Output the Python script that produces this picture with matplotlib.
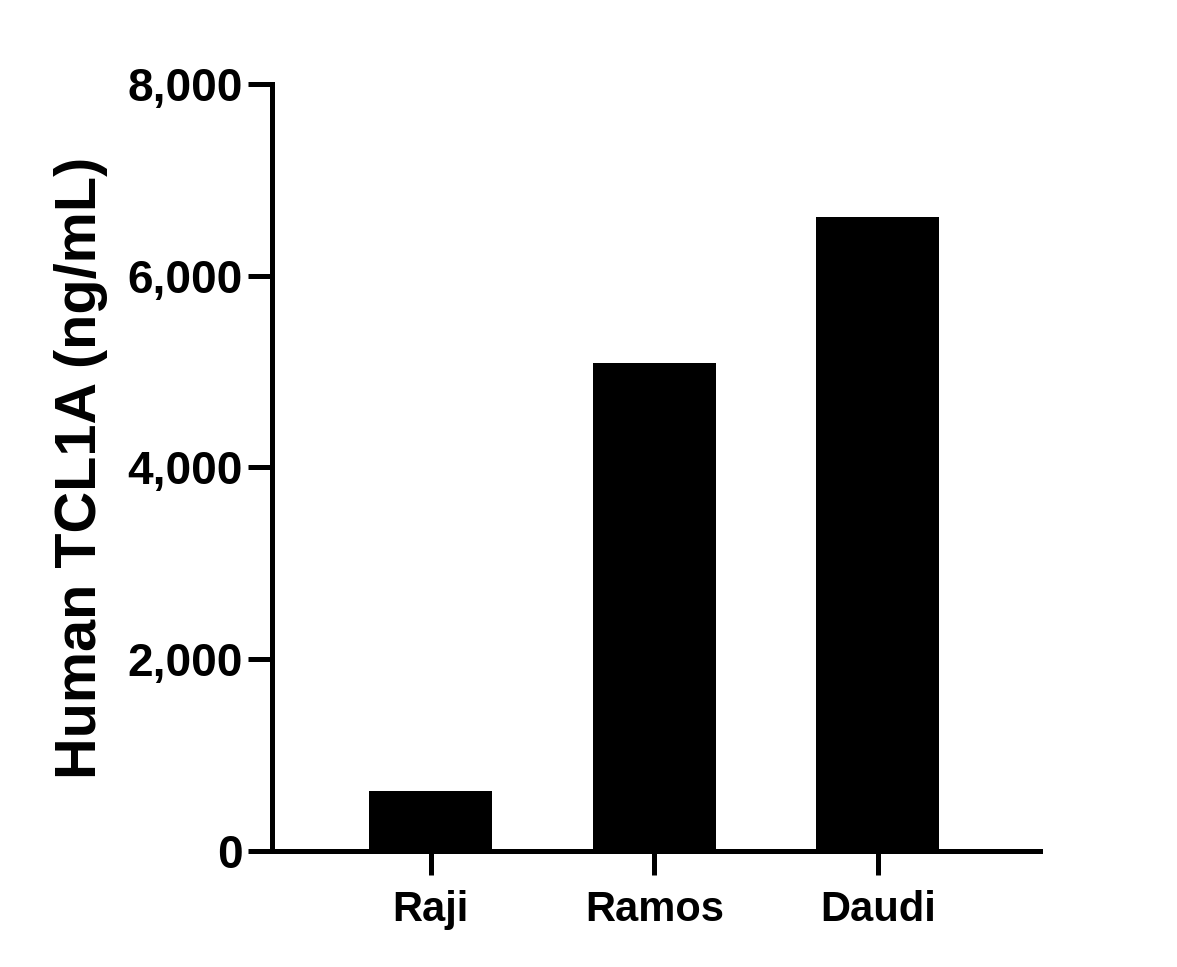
import numpy as np
import matplotlib.pyplot as plt
from matplotlib.ticker import FuncFormatter

# 세포주별 TCL1A 농도
cell_lines = ["Raji", "Ramos", "Daudi"]
tcl1a = [625, 5090, 6610]
yticks = [0, 2000, 4000, 6000, 8000]

plt.rcParams['font.family'] = ['Liberation Sans', 'DejaVu Sans']
plt.rcParams['font.weight'] = 'bold'

fig = plt.figure(figsize=(11.77, 9.67), dpi=100)
ax = fig.add_axes([0.2311, 0.12, 0.6525, 0.7931])

x = np.arange(len(cell_lines))
ax.bar(x, tcl1a, width=0.55, color='black')

ax.set_xlim(-0.711, 2.725)
ax.set_ylim(0, 8000)
ax.set_yticks(yticks)
ax.yaxis.set_major_formatter(FuncFormatter(lambda v, p: f"{int(v):,}"))
ax.set_xticks(x)
ax.set_xticklabels(cell_lines)

for s in ['top', 'right']:
    ax.spines[s].set_visible(False)
for s in ['left', 'bottom']:
    ax.spines[s].set_linewidth(3.6)
    ax.spines[s].set_capstyle('projecting')

ax.tick_params(axis='both', width=3.6, length=17)
ax.tick_params(axis='y', labelsize=33, pad=4)
ax.tick_params(axis='x', labelsize=30, pad=11)
ax.set_ylabel("Human TCL1A (ng/mL)", fontsize=41.5, fontweight='bold', labelpad=14)

fig.savefig("out.png", dpi=100)
